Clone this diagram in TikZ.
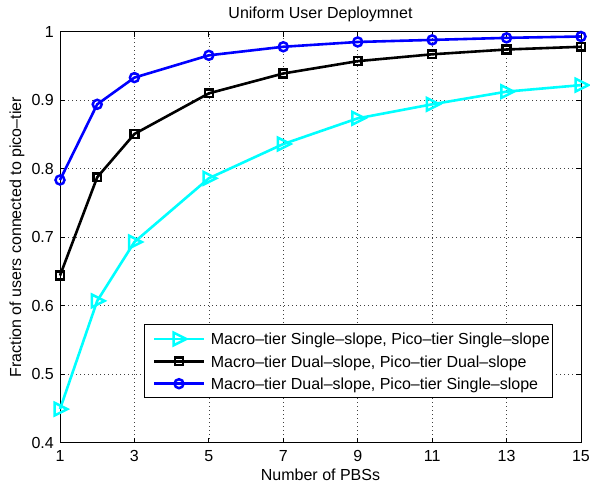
\documentclass[tikz,border=0pt]{standalone}
\usepackage{fontspec}
\setmainfont{Liberation Sans}
\definecolor{mcyan}{RGB}{0,255,255}
\definecolor{mblue}{RGB}{0,0,255}
\begin{document}
\begin{tikzpicture}[x=1pt,y=1pt,
  every node/.style={font=\fontsize{16}{18}\selectfont, inner sep=0pt},
  gridline/.style={black!75, line width=0.6pt, dash pattern=on 0.7pt off 3.3pt},
  axisline/.style={black, line width=0.9pt},
  series/.style={line width=2.6pt, line join=round},
  markline/.style={line width=2.5pt, line join=miter},
  tri/.pic={\draw[markline] (7.3pt,0pt) -- (-5.3pt,6.3pt) -- (-5.3pt,-6.3pt) -- cycle;},
  sqr/.pic={\draw[markline] (-3.9pt,-3.9pt) rectangle (3.9pt,3.9pt);},
  circ/.pic={\draw[markline] (0pt,0pt) circle[radius=4.5pt];}]
\useasboundingbox (0,0) rectangle (590,490);
\fill[white] (0,0) rectangle (590,490);

% title and axis labels
\node (title) at (320.5,476) {Uniform User Deploymnet};
\node (xlabel) at (320.5,15) {Number of PBSs};
\node[rotate=90] (ylabel) at (17,252.8) {Fraction of users connected to pico--tier};

% data frame: x from 1 to 15, y from 0.4 to 1
\begin{scope}[shift={(22.786pt,-226.7pt)}, x=37.214pt, y=685pt]
  % grid
  \foreach \gx in {3,5,...,13} \draw[gridline] (\gx,0.4) -- (\gx,1);
  \foreach \gy in {0.5,0.6,0.7,0.8,0.9} \draw[gridline] (1,\gy) -- (15,\gy);
  % ticks and tick labels
  \foreach \tx in {1,3,...,15} {
    \draw[axisline] (\tx,0.4) -- ++(0,5pt);
    \draw[axisline] (\tx,1) -- ++(0,-5pt);
    \node[anchor=base] at ([yshift=-19pt]\tx,0.4) {\tx};
  }
  \foreach \ty/\tl in {0.4/0.4,0.5/0.5,0.6/0.6,0.7/0.7,0.8/0.8,0.9/0.9,1/1} {
    \draw[axisline] (1,\ty) -- ++(5pt,0);
    \draw[axisline] (15,\ty) -- ++(-5pt,0);
    \node[anchor=east] at ([xshift=-6pt]1,\ty) {\tl};
  }
  \draw[axisline] (1,0.4) rectangle (15,1);

  % curves with their markers
  \def\cyandata{(1,0.449) (2,0.607) (3,0.693) (5,0.786) (7,0.836) (9,0.8735) (11,0.894) (13,0.9125) (15,0.922)}
  \def\blackdata{(1,0.644) (2,0.7875) (3,0.8507) (5,0.910) (7,0.939) (9,0.957) (11,0.967) (13,0.974) (15,0.978)}
  \def\bluedata{(1,0.7835) (2,0.894) (3,0.933) (5,0.9655) (7,0.978) (9,0.985) (11,0.988) (13,0.991) (15,0.993)}
  \draw[series, mcyan] plot coordinates {\cyandata};
  \foreach \px/\py in {1/0.449,2/0.607,3/0.693,5/0.786,7/0.836,9/0.8735,11/0.894,13/0.9125,15/0.922}
    \pic[mcyan] at (\px,\py) {tri};
  \draw[series, black] plot coordinates {\blackdata};
  \foreach \px/\py in {1/0.644,2/0.7875,3/0.8507,5/0.910,7/0.939,9/0.957,11/0.967,13/0.974,15/0.978}
    \pic[black] at (\px,\py) {sqr};
  \draw[series, mblue] plot coordinates {\bluedata};
  \foreach \px/\py in {1/0.7835,2/0.894,3/0.933,5/0.9655,7/0.978,9/0.985,11/0.988,13/0.991,15/0.993}
    \pic[mblue] at (\px,\py) {circ};
\end{scope}

% legend
\draw[fill=white, line width=0.9pt] (144.3,92.7) rectangle (552.3,165.7);
\coordinate (s1a) at (154,151);   \coordinate (s1b) at (204,151);
\coordinate (s2a) at (154,128.7); \coordinate (s2b) at (204,128.7);
\coordinate (s3a) at (154,106.3); \coordinate (s3b) at (204,106.3);
\draw[series, mcyan] (s1a) -- (s1b);
\pic[mcyan] at (179,151) {tri};
\draw[series, black] (s2a) -- (s2b);
\pic[black] at (179,128.7) {sqr};
\draw[series, mblue] (s3a) -- (s3b);
\pic[mblue] at (179,106.3) {circ};
\node[anchor=base west] (leg1) at (210.7,145) {Macro--tier Single--slope, Pico--tier Single--slope};
\node[anchor=base west] (leg2) at (210.7,122.7) {Macro--tier Dual--slope, Pico--tier Dual--slope};
\node[anchor=base west] (leg3) at (210.7,100.3) {Macro--tier Dual--slope, Pico--tier Single--slope};
\end{tikzpicture}
\end{document}
